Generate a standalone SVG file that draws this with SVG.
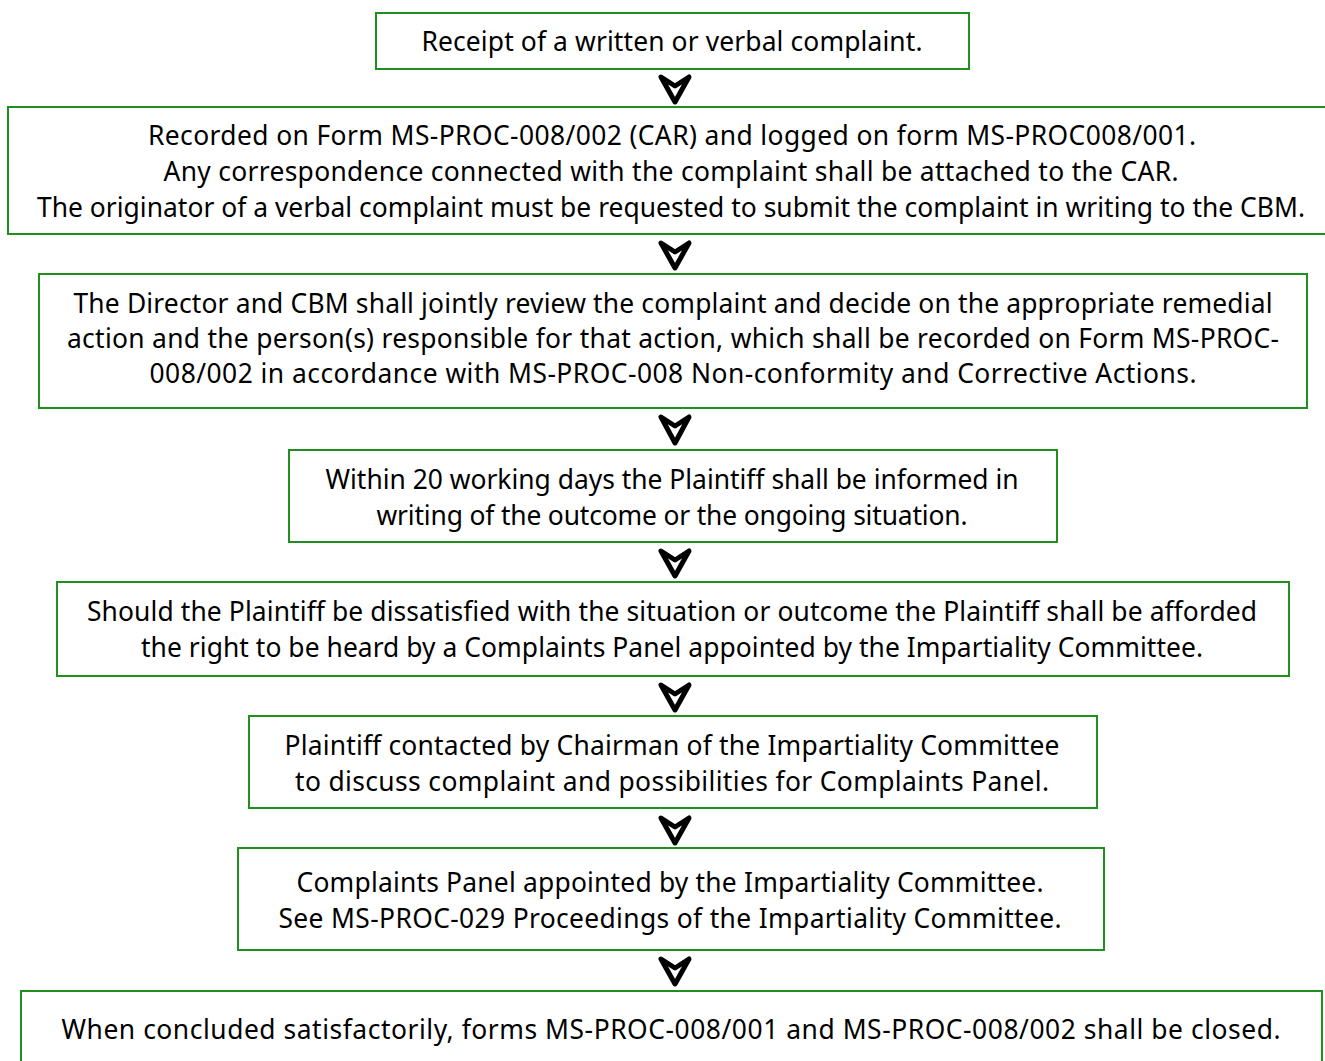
<svg xmlns="http://www.w3.org/2000/svg" width="1325" height="1061" viewBox="0 0 1325 1061">
<style>
.box{fill:#ffffff;stroke:#1f8f1f;stroke-width:2}
.t{font-family:"Noto Sans","Open Sans",sans-serif;font-size:26.4px;fill:#000000;text-anchor:middle}
.arr{fill:#ffffff;stroke:#000000;stroke-width:5;stroke-linejoin:round}
</style>
<rect width="1325" height="1061" fill="#ffffff"/>
<g id="n1"><rect class="box" x="376" y="13" width="593" height="56"/><text class="t" x="672" y="51" textLength="501" lengthAdjust="spacing">Receipt of a written or verbal complaint.</text></g>
<g id="n2"><rect class="box" x="8" y="107" width="1322" height="127"/>
<text class="t" x="672" y="145" textLength="1048" lengthAdjust="spacing">Recorded on Form MS-PROC-008/002 (CAR) and logged on form MS-PROC008/001.</text>
<text class="t" x="671" y="181" textLength="1015" lengthAdjust="spacing">Any correspondence connected with the complaint shall be attached to the CAR.</text>
<text class="t" x="671" y="217" textLength="1268" lengthAdjust="spacing">The originator of a verbal complaint must be requested to submit the complaint in writing to the CBM.</text></g>
<g id="n3"><rect class="box" x="39" y="274" width="1268" height="134"/>
<text class="t" x="673" y="313" textLength="1199" lengthAdjust="spacing">The Director and CBM shall jointly review the complaint and decide on the appropriate remedial</text>
<text class="t" x="673" y="348" textLength="1212" lengthAdjust="spacing">action and the person(s) responsible for that action, which shall be recorded on Form MS-PROC-</text>
<text class="t" x="673" y="383" textLength="1047" lengthAdjust="spacing">008/002 in accordance with MS-PROC-008 Non-conformity and Corrective Actions.</text></g>
<g id="n4"><rect class="box" x="289" y="450" width="768" height="92"/>
<text class="t" x="672" y="489" textLength="693" lengthAdjust="spacing">Within 20 working days the Plaintiff shall be informed in</text>
<text class="t" x="672" y="525" textLength="591" lengthAdjust="spacing">writing of the outcome or the ongoing situation.</text></g>
<g id="n5"><rect class="box" x="57" y="582" width="1232" height="94"/>
<text class="t" x="672" y="621" textLength="1170" lengthAdjust="spacing">Should the Plaintiff be dissatisfied with the situation or outcome the Plaintiff shall be afforded</text>
<text class="t" x="672" y="657" textLength="1062" lengthAdjust="spacing">the right to be heard by a Complaints Panel appointed by the Impartiality Committee.</text></g>
<g id="n6"><rect class="box" x="249" y="716" width="848" height="92"/>
<text class="t" x="672" y="755" textLength="775" lengthAdjust="spacing">Plaintiff contacted by Chairman of the Impartiality Committee</text>
<text class="t" x="672" y="791" textLength="754" lengthAdjust="spacing">to discuss complaint and possibilities for Complaints Panel.</text></g>
<g id="n7"><rect class="box" x="238" y="848" width="866" height="102"/>
<text class="t" x="670" y="892" textLength="747" lengthAdjust="spacing">Complaints Panel appointed by the Impartiality Committee.</text>
<text class="t" x="670" y="928" textLength="783" lengthAdjust="spacing">See MS-PROC-029 Proceedings of the Impartiality Committee.</text></g>
<g id="n8"><rect class="box" x="21" y="991" width="1301" height="80"/>
<text class="t" x="671" y="1039" textLength="1219" lengthAdjust="spacing">When concluded satisfactorily, forms MS-PROC-008/001 and MS-PROC-008/002 shall be closed.</text></g>
<g id="connectors">
<path class="arr" d="M661,77 L675,86 L689,77 L675,102 Z"/>
<path class="arr" d="M661,243 L675,252 L689,243 L675,268 Z"/>
<path class="arr" d="M661,417 L675,426 L689,417 L675,443 Z"/>
<path class="arr" d="M661,551 L675,560 L689,551 L675,576 Z"/>
<path class="arr" d="M661,685 L675,694 L689,685 L675,710 Z"/>
<path class="arr" d="M661,818 L675,827 L689,818 L675,843 Z"/>
<path class="arr" d="M661,959 L675,968 L689,959 L675,984 Z"/>
</g>
</svg>
